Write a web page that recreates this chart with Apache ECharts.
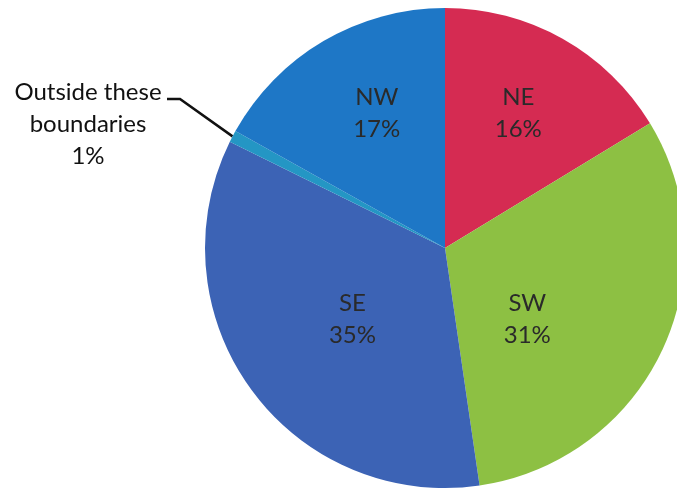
<!DOCTYPE html>
<html style="height: 100%">
<head>
<meta charset="utf-8">
</head>
<body style="height: 100%; margin: 0; background: #fff">
<div id="container" style="width: 677px; height: 491px"></div>
<script type="text/javascript" src="https://cdn.jsdelivr.net/npm/echarts@6/dist/echarts.min.js"></script>
<script type="text/javascript">
// regions, clockwise from 12 o'clock
var regions = ['NE', 'SW', 'SE', 'Outside these\nboundaries', 'NW'];
var shares = [16.3, 31.4, 34.6, 0.8, 16.9];
var colors = ['#d52b52', '#8dc043', '#3c63b5', '#2496c4', '#1e77c6'];

// nudges so labels sit where the original put them
var labelShift = [[13, -28], [-29, 19], [7, -1], null, [-6, -29]];

var dom = document.getElementById('container');
var myChart = echarts.init(dom);

var pieData = regions.map(function (name, i) {
    return {
        name: name,
        value: shares[i],
        itemStyle: { color: colors[i] }
    };
});
// the small slice gets a label outside with a leader line
pieData[3].label = {
    position: 'outside',
    color: '#111',
    lineHeight: 32,
    align: 'center'
};
pieData[3].labelLine = {
    show: true,
    length: 60,
    length2: 12,
    lineStyle: { color: '#111', width: 2.5 }
};

var option = {
    animation: false,
    series: [{
        type: 'pie',
        center: [445, 248],
        radius: [0, 240],
        startAngle: 90,
        clockwise: true,
        avoidLabelOverlap: false,
        data: pieData,
        itemStyle: { borderWidth: 0 },
        label: {
            position: 'inside',
            fontFamily: 'Lato',
            fontSize: 24,
            lineHeight: 32,
            color: '#2a2a2a',
            formatter: function (p) {
                return p.name + '\n' + Math.round(p.value) + '%';
            }
        },
        labelLine: { show: false },
        emphasis: { disabled: true },
        labelLayout: function (p) {
            var s = labelShift[p.dataIndex];
            if (s) {
                return { dx: s[0], dy: s[1] };
            }
            var a = p.labelLinePoints[0];
            return {
                x: 88,
                y: 124,
                align: 'center',
                verticalAlign: 'middle',
                labelLinePoints: [a, [180, 99], [167, 99]]
            };
        }
    }]
};

myChart.setOption(option);
</script>
</body>
</html>
